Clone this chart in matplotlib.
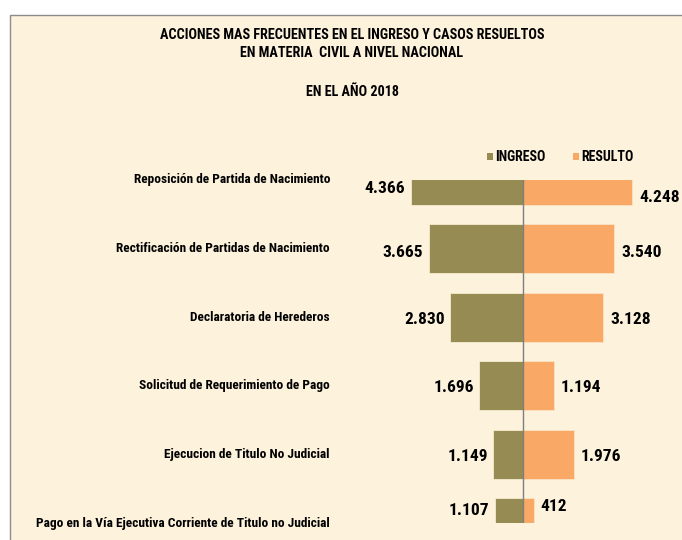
import matplotlib
matplotlib.use('Agg')
import matplotlib.pyplot as plt
import matplotlib.transforms as mtransforms
from matplotlib.patches import Rectangle

# data
categorias = [
    'Reposición de Partida de Nacimiento',
    'Rectificación de Partidas de Nacimiento',
    'Declaratoria de Herederos',
    'Solicitud de Requerimiento de Pago',
    'Ejecucion de Titulo No Judicial',
    'Pago en la Vía Ejecutiva Corriente de Titulo no Judicial',
]
ingreso = [4366, 3665, 2830, 1696, 1149, 1107]
resuelto = [4248, 3540, 3128, 1194, 1976, 412]

COL_ING = '#958b53'
COL_RES = '#f9a866'
FONDO = '#fdf2dc'

plt.rcParams['font.family'] = ['Roboto Condensed', 'DejaVu Sans']
plt.rcParams['font.weight'] = 'bold'


def fmt(v):
    return f'{v:,}'.replace(',', '.')


fig = plt.figure(figsize=(6.82, 5.4), dpi=100)
fig.patch.set_facecolor('white')
fig.patches.append(Rectangle((10 / 682, -0.05), 1.2, 0.05 + 1 - 15 / 540,
                             transform=fig.transFigure, facecolor=FONDO,
                             edgecolor='#8c8c8c', linewidth=1.0, zorder=-10))

ax = fig.add_axes([340 / 682, 1 - 523 / 540, 342 / 682, (523 - 180) / 540])
ax.set_facecolor('none')
pos = list(range(len(categorias)))
ax.barh(pos, [-v for v in ingreso], height=0.72, color=COL_ING,
        edgecolor='#f5ecd0', linewidth=0.6)
ax.barh(pos, resuelto, height=0.72, color=COL_RES,
        edgecolor='#fbe3c4', linewidth=0.6)
ax.set_xlim(-(523 - 340) / 0.0257, (682 - 523) / 0.0257)
ax.set_ylim(5, 0)
ax.axvline(0, color='#7f7f7f', linewidth=1.0)
for s in ax.spines.values():
    s.set_visible(False)
ax.set_xticks([])
ax.set_yticks([])

# value labels
y_izq = [0.12, 1.05, 2.03, 3.03, 4.03, 4.82]
y_der = [0.25, 1.05, 2.03, 3.03, 4.03, 4.76]
for i in pos:
    ax.annotate(fmt(ingreso[i]), (-ingreso[i], y_izq[i]), xytext=(-4, 0),
                textcoords='offset points', ha='right', va='center',
                fontsize=12.5, fontweight='bold', annotation_clip=False)
    ax.annotate(fmt(resuelto[i]), (resuelto[i], y_der[i]), xytext=(5, 0),
                textcoords='offset points', ha='left', va='center',
                fontsize=12.5, fontweight='bold', annotation_clip=False)

# category labels
tr = mtransforms.blended_transform_factory(ax.transAxes, ax.transData)
for i, c in enumerate(categorias):
    ax.text(-10 / 342, i, c, transform=tr, ha='right', va='center',
            fontsize=9.6, fontweight='bold', clip_on=False)

# titles
fig.text(352 / 682, 1 - 35 / 540, 'ACCIONES MAS FRECUENTES EN EL INGRESO Y CASOS RESUELTOS',
         ha='center', va='center', fontsize=10.2, fontweight='bold')
fig.text(352 / 682, 1 - 53 / 540, 'EN MATERIA  CIVIL A NIVEL NACIONAL',
         ha='center', va='center', fontsize=10.2, fontweight='bold')
fig.text(352 / 682, 1 - 92 / 540, 'EN EL AÑO 2018',
         ha='center', va='center', fontsize=10.2, fontweight='bold')

# legend
for xm, col, lab in [(487, COL_ING, 'INGRESO'), (573, COL_RES, 'RESULTO')]:
    fig.patches.append(Rectangle((xm / 682, 1 - 160 / 540), 6 / 682, 7 / 540,
                                 transform=fig.transFigure, facecolor=col,
                                 edgecolor='none'))
    fig.text((xm + 8) / 682, 1 - 157 / 540, lab, ha='left', va='center',
             fontsize=10, fontweight='bold')

fig.savefig('out.png', dpi=100, facecolor=fig.get_facecolor())
